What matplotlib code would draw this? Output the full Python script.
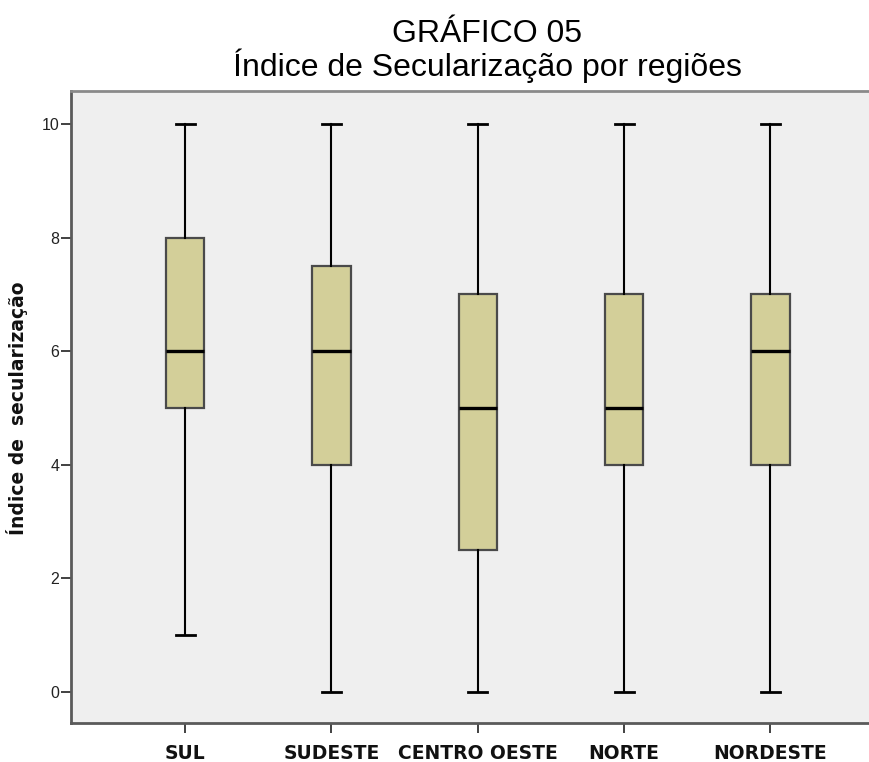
import matplotlib
matplotlib.use("Agg")
import matplotlib.pyplot as plt

regions = ["SUL", "SUDESTE", "CENTRO OESTE", "NORTE", "NORDESTE"]
whislo = [1, 0, 0, 0, 0]
q1 = [5, 4, 2.5, 4, 4]
med = [6, 6, 5, 5, 6]
q3 = [8, 7.5, 7, 7, 7]
whishi = [10, 10, 10, 10, 10]
yticks = [0, 2, 4, 6, 8, 10]

stats = [dict(label=r, whislo=lo, q1=a, med=m, q3=b, whishi=hi, fliers=[])
         for r, lo, a, m, b, hi in zip(regions, whislo, q1, med, q3, whishi)]

fig = plt.figure(figsize=(8.7, 7.62), dpi=100)
ax = fig.add_axes([71/870, 1-723/762, 1-71/870, (723-91)/762])
ax.set_facecolor("#efefef")

ax.bxp(stats, positions=range(len(regions)), widths=0.26, patch_artist=True,
       showfliers=False,
       boxprops=dict(facecolor="#d3cf99", edgecolor="#4a4a4a", linewidth=1.6),
       medianprops=dict(color="black", linewidth=2.4),
       whiskerprops=dict(color="black", linewidth=1.5),
       capprops=dict(color="black", linewidth=2))
ax.set_xlim(-0.78, 4.68)
ax.set_ylim(-0.55, 10.58)
ax.set_yticks(yticks)
ax.set_yticklabels([str(t) for t in yticks], fontsize=11.5, color="#222222",
                   family="Liberation Sans")
ax.set_xticks(range(len(regions)))
ax.set_xticklabels(regions, fontsize=13.5, fontweight="bold", family="DejaVu Sans",
                   color="#111111")
ax.tick_params(axis="x", length=7, width=1.3, color="#333333", pad=8)
ax.tick_params(axis="y", length=7.5, width=1.3, color="#333333", pad=1)
for s in ["left", "bottom"]:
    ax.spines[s].set_color("#5a5a5a")
    ax.spines[s].set_linewidth(2)
ax.spines["top"].set_color("#8a8a8a")
ax.spines["top"].set_linewidth(2)
ax.spines["right"].set_visible(False)

fig.text(17.5/870, 1-408/762, "Índice de  secularização", rotation=90, ha="center",
         va="center", fontsize=13.5, fontweight="bold", family="DejaVu Sans",
         color="#111111")

fig.text(0.560, 1-42/762, "GRÁFICO 05", ha="center", va="baseline", fontsize=23,
         family="Liberation Sans")
fig.text(0.560, 1-76/762, "Índice de Secularização por regiões", ha="center",
         va="baseline", fontsize=23, family="Liberation Sans")

fig.savefig("out.png", dpi=100)
